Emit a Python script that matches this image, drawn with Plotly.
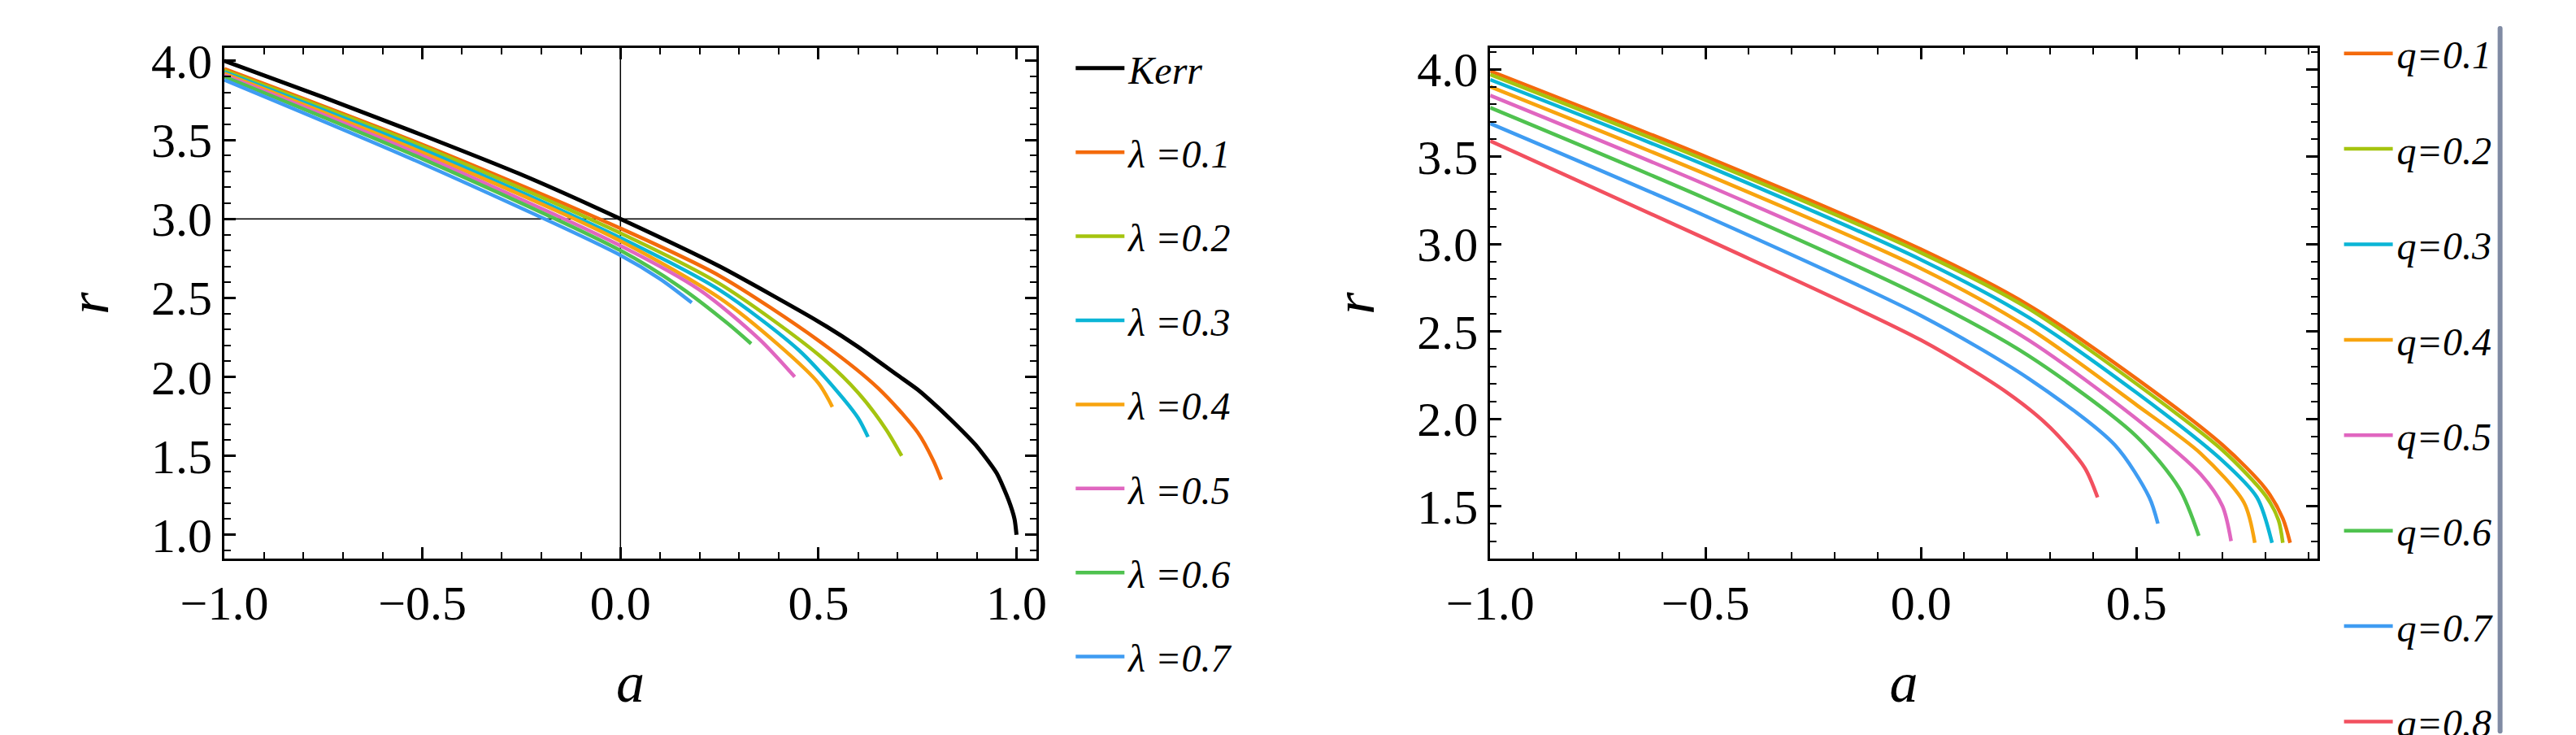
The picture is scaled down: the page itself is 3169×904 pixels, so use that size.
import plotly.graph_objects as go

# ---- left panel: Kerr and lambda curves (a, r) ----
kerr_a = [-1.0, -0.75, -0.5, -0.25, 0.0, 0.25, 0.5, 0.6, 0.7, 0.75, 0.8, 0.85, 0.9, 0.95, 0.98, 0.995, 1.0]
kerr_r = [4.0, 3.77, 3.53, 3.28, 3.0, 2.70, 2.35, 2.19, 2.01, 1.92, 1.81, 1.69, 1.56, 1.39, 1.22, 1.10, 1.0]

lam_labels = ["λ =0.1", "λ =0.2", "λ =0.3", "λ =0.4", "λ =0.5", "λ =0.6", "λ =0.7"]
lam_a = [
    [-1.0, -0.5, 0.0, 0.25, 0.5, 0.65, 0.75, 0.79, 0.81],
    [-1.0, -0.5, 0.0, 0.25, 0.5, 0.6, 0.67, 0.71],
    [-1.0, -0.5, 0.0, 0.25, 0.45, 0.55, 0.6, 0.625],
    [-1.0, -0.5, 0.0, 0.25, 0.4, 0.5, 0.535],
    [-1.0, -0.5, 0.0, 0.2, 0.35, 0.44],
    [-1.0, -0.5, 0.0, 0.15, 0.27, 0.33],
    [-1.0, -0.5, 0.0, 0.1, 0.18],
]
lam_r = [
    [3.95, 3.47, 2.94, 2.64, 2.23, 1.93, 1.65, 1.47, 1.35],
    [3.94, 3.46, 2.91, 2.59, 2.14, 1.90, 1.67, 1.50],
    [3.93, 3.44, 2.88, 2.55, 2.17, 1.90, 1.74, 1.62],
    [3.92, 3.42, 2.86, 2.50, 2.20, 1.96, 1.81],
    [3.91, 3.40, 2.83, 2.55, 2.24, 2.00],
    [3.90, 3.38, 2.80, 2.57, 2.34, 2.21],
    [3.88, 3.35, 2.77, 2.62, 2.47],
]
lam_colors = ["#f46a0b", "#a5c40f", "#0bb5d6", "#f8a40f", "#e066c0", "#4fc24f", "#3f9cf2"]

# ---- right panel: q curves ----
q_labels = ["q=0.1", "q=0.2", "q=0.3", "q=0.4", "q=0.5", "q=0.6", "q=0.7", "q=0.8"]
q_a = [
    [-1.0, -0.5, 0.0, 0.25, 0.5, 0.7, 0.8, 0.84, 0.857],
    [-1.0, -0.5, 0.0, 0.25, 0.5, 0.7, 0.8, 0.83, 0.84],
    [-1.0, -0.5, 0.0, 0.25, 0.5, 0.7, 0.78, 0.815],
    [-1.0, -0.5, 0.0, 0.25, 0.5, 0.65, 0.75, 0.775],
    [-1.0, -0.5, 0.0, 0.25, 0.5, 0.65, 0.7, 0.72],
    [-1.0, -0.5, 0.0, 0.25, 0.5, 0.6, 0.645],
    [-1.0, -0.5, 0.0, 0.25, 0.45, 0.53, 0.55],
    [-1.0, -0.5, 0.0, 0.2, 0.3, 0.38, 0.41],
]
q_r = [
    [3.99, 3.50, 2.97, 2.65, 2.23, 1.85, 1.60, 1.43, 1.29],
    [3.97, 3.48, 2.95, 2.63, 2.20, 1.82, 1.56, 1.42, 1.29],
    [3.94, 3.45, 2.91, 2.58, 2.15, 1.76, 1.55, 1.29],
    [3.90, 3.40, 2.86, 2.52, 2.08, 1.80, 1.52, 1.29],
    [3.85, 3.34, 2.79, 2.45, 2.00, 1.68, 1.50, 1.30],
    [3.78, 3.26, 2.70, 2.36, 1.90, 1.60, 1.33],
    [3.69, 3.16, 2.59, 2.23, 1.85, 1.55, 1.40],
    [3.59, 3.03, 2.45, 2.15, 1.95, 1.72, 1.55],
]
q_colors = ["#f46a0b", "#a5c40f", "#0bb5d6", "#f8a40f", "#e066c0", "#4fc24f", "#3f9cf2", "#f2505f"]

FONT = "Liberation Serif"

fig = go.Figure()
fig.add_trace(go.Scatter(x=kerr_a, y=kerr_r, mode="lines", name="<i>Kerr</i>",
                         line=dict(color="black", width=5, shape="spline", smoothing=0.6),
                         legendgroup="k", legend="legend"))
for i, lab in enumerate(lam_labels):
    fig.add_trace(go.Scatter(x=lam_a[i], y=lam_r[i], mode="lines", name=f"<i>{lab}</i>",
                             line=dict(color=lam_colors[i], width=4.5, shape="spline", smoothing=0.8),
                             legendgroup=f"l{i}", legend="legend"))
for i, lab in enumerate(q_labels):
    fig.add_trace(go.Scatter(x=q_a[i], y=q_r[i], mode="lines", name=f"<i>{lab}</i>",
                             line=dict(color=q_colors[i], width=4.5, shape="spline", smoothing=0.8),
                             xaxis="x2", yaxis="y2", legendgroup=f"q{i}", legend="legend2"))

ax = dict(showgrid=False, zeroline=False, showline=True, linecolor="black", linewidth=3,
          mirror="ticks", ticks="inside", ticklen=14, tickwidth=2.5, tickcolor="black",
          tickfont=dict(family=FONT, size=60, color="black"),
          minor=dict(ticks="inside", ticklen=8, tickwidth=2, tickcolor="black"))
title_font = dict(family=FONT, size=70, color="black")

fig.update_layout(
    width=3169, height=904, paper_bgcolor="white", plot_bgcolor="white",
    margin=dict(l=0, r=0, t=0, b=0),
    xaxis=dict(ax, domain=[0.069, 0.391], range=[-1.0, 1.05], dtick=0.5, tickformat=".1f",
               minor=dict(ax["minor"], dtick=0.1),
               title=dict(text="<i>a</i>", font=title_font, standoff=40)),
    yaxis=dict(ax, domain=[0.25, 0.96], range=[0.85, 4.08], dtick=0.5, tickformat=".1f",
               minor=dict(ax["minor"], dtick=0.1),
               title=dict(text="<i>r</i>", font=title_font, standoff=30)),
    xaxis2=dict(ax, domain=[0.571, 0.899], range=[-1.0, 0.92], dtick=0.5, tickformat=".1f",
                minor=dict(ax["minor"], dtick=0.1), anchor="y2",
                title=dict(text="<i>a</i>", font=title_font, standoff=40)),
    yaxis2=dict(ax, domain=[0.25, 0.96], range=[1.2, 4.12], dtick=0.5, tickformat=".1f",
                minor=dict(ax["minor"], dtick=0.1), anchor="x2",
                title=dict(text="<i>r</i>", font=title_font, standoff=30)),
    legend=dict(x=0.405, y=0.975, yanchor="top", bgcolor="rgba(0,0,0,0)",
                font=dict(family=FONT, size=48, color="black"),
                tracegroupgap=38, itemwidth=60),
    legend2=dict(x=0.908, y=0.975, yanchor="top", bgcolor="rgba(0,0,0,0)",
                 font=dict(family=FONT, size=48, color="black"),
                 tracegroupgap=52, itemwidth=60),
)

# reference lines at a=0 and r=3 in the left panel
fig.add_shape(type="line", xref="x", yref="paper", x0=0, x1=0, y0=0.25, y1=0.96,
              line=dict(color="black", width=1.5), layer="below")
fig.add_shape(type="line", xref="paper", yref="y", x0=0.069, x1=0.391, y0=3, y1=3,
              line=dict(color="black", width=1.5), layer="below")

fig.write_html("out.html")
